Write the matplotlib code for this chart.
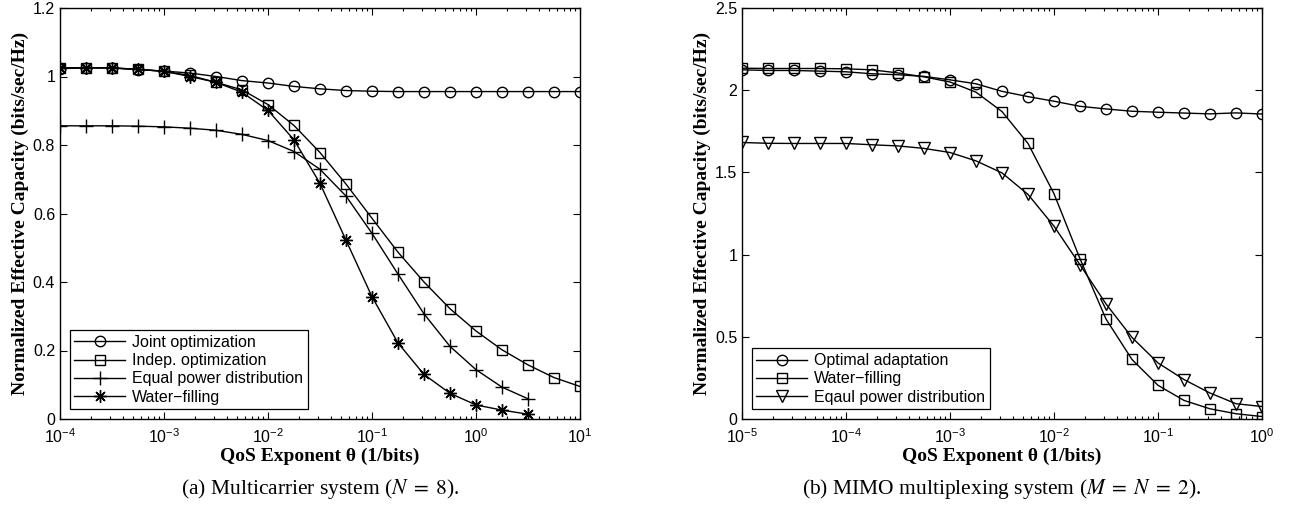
import numpy as np
import matplotlib
matplotlib.use('Agg')
import matplotlib.pyplot as plt
from matplotlib.ticker import LogLocator, FormatStrFormatter, NullFormatter

plt.rcParams['font.family'] = ['Liberation Sans', 'DejaVu Sans']
plt.rcParams['mathtext.fontset'] = 'stix'

# (a) multicarrier system, theta from 1e-4 to 1e1
theta_a = np.logspace(-4, 1, 21)
joint = [1.023, 1.025, 1.025, 1.020, 1.016, 1.010, 1.000, 0.988, 0.981, 0.971, 0.964,
         0.959, 0.957, 0.956, 0.956, 0.956, 0.956, 0.956, 0.956, 0.956, 0.956]
indep = [1.025, 1.026, 1.025, 1.021, 1.015, 1.003, 0.983, 0.961, 0.918, 0.857, 0.778,
         0.686, 0.586, 0.487, 0.400, 0.322, 0.257, 0.202, 0.158, 0.121, 0.095]
equal_a = [0.856, 0.856, 0.856, 0.855, 0.853, 0.849, 0.843, 0.831, 0.813, 0.781, 0.729,
           0.651, 0.542, 0.423, 0.307, 0.212, 0.144, 0.093, 0.059]
water_a = [1.025, 1.026, 1.025, 1.021, 1.015, 1.000, 0.983, 0.954, 0.901, 0.815, 0.688,
           0.522, 0.357, 0.222, 0.130, 0.075, 0.041, 0.026, 0.014]

# (b) MIMO multiplexing, theta from 1e-5 to 1e0
theta_b = np.logspace(-5, 0, 21)
optimal = [2.124, 2.120, 2.120, 2.116, 2.112, 2.100, 2.094, 2.084, 2.063, 2.039, 1.993,
           1.961, 1.933, 1.902, 1.886, 1.872, 1.866, 1.861, 1.856, 1.862, 1.855]
water_b = [2.134, 2.132, 2.132, 2.132, 2.130, 2.124, 2.105, 2.081, 2.050, 1.988, 1.870,
           1.676, 1.370, 0.975, 0.608, 0.362, 0.205, 0.113, 0.062, 0.032, 0.015]
equal_b = [1.682, 1.677, 1.676, 1.676, 1.676, 1.668, 1.661, 1.646, 1.621, 1.570, 1.497,
           1.366, 1.173, 0.938, 0.700, 0.496, 0.341, 0.240, 0.158, 0.093, 0.076]

fig = plt.figure(figsize=(12.92, 5.15), dpi=100)
ax1 = fig.add_axes([60 / 1292, 96 / 515, 520 / 1292, 411 / 515])
ax2 = fig.add_axes([742 / 1292, 96 / 515, 520 / 1292, 411 / 515])

mk = dict(color='k', lw=1.0, mfc='none', mec='k', mew=1.0)
asterisk = (8, 2, 0)  # matlab style '*'

ax1.plot(theta_a, joint, marker='o', ms=7.5, label='Joint optimization', **mk)
ax1.plot(theta_a, indep, marker='s', ms=7, label='Indep. optimization', **mk)
ax1.plot(theta_a[:len(equal_a)], equal_a, marker='+', ms=10, label='Equal power distribution', **mk)
ax1.plot(theta_a[:len(water_a)], water_a, marker=asterisk, ms=9, label='Water\u2212filling', **mk)

ax2.plot(theta_b, optimal, marker='o', ms=7.5, label='Optimal adaptation', **mk)
ax2.plot(theta_b, water_b, marker='s', ms=7, label='Water\u2212filling', **mk)
ax2.plot(theta_b, equal_b, marker='v', ms=8.5, label='Eqaul power distribution', **mk)


def style(ax, xlim, ylim, yticks):
    ax.set_xscale('log')
    ax.set_xlim(*xlim)
    ax.set_ylim(*ylim)
    ax.set_yticks(yticks)
    ax.yaxis.set_major_formatter(FormatStrFormatter('%g'))
    ax.xaxis.set_major_locator(LogLocator(base=10, numticks=10))
    ax.xaxis.set_minor_locator(LogLocator(base=10, subs=np.arange(2, 10), numticks=50))
    ax.xaxis.set_minor_formatter(NullFormatter())
    ax.tick_params(which='both', direction='in', top=True, right=True, labelsize=11.5,
                   width=0.8, colors='k')
    ax.tick_params(which='major', length=5)
    ax.tick_params(which='minor', length=2.5)
    ax.tick_params(axis='x', which='major', pad=6)
    for s in ax.spines.values():
        s.set_linewidth(1.0)
    ax.set_xlabel('QoS Exponent \u03b8 (1/bits)', family='Liberation Serif',
                  fontweight='bold', fontsize=14, labelpad=1)
    ax.set_ylabel('Normalized Effective Capacity (bits/sec/Hz)', family='Liberation Serif',
                  fontweight='bold', fontsize=14, labelpad=3)
    leg = ax.legend(loc='lower left', fontsize=11.5, fancybox=False, framealpha=1,
                    edgecolor='k', handlelength=3.2, borderpad=0.3, labelspacing=0.2,
                    handletextpad=0.4, borderaxespad=0.6)
    leg.get_frame().set_linewidth(0.9)


style(ax1, (1e-4, 1e1), (0, 1.2), [0, 0.2, 0.4, 0.6, 0.8, 1.0, 1.2])
style(ax2, (1e-5, 1e0), (0, 2.5), [0, 0.5, 1.0, 1.5, 2.0, 2.5])

fig.text(320 / 1292, 0.05, r'(a) Multicarrier system ($N\;=\;8$).', ha='center', va='center',
         family='Liberation Serif', fontsize=15.5)
fig.text(1002 / 1292, 0.05, r'(b) MIMO multiplexing system ($M\;=\;N\;=\;2$).', ha='center',
         va='center', family='Liberation Serif', fontsize=15.5)

fig.savefig('out.png', dpi=100)
